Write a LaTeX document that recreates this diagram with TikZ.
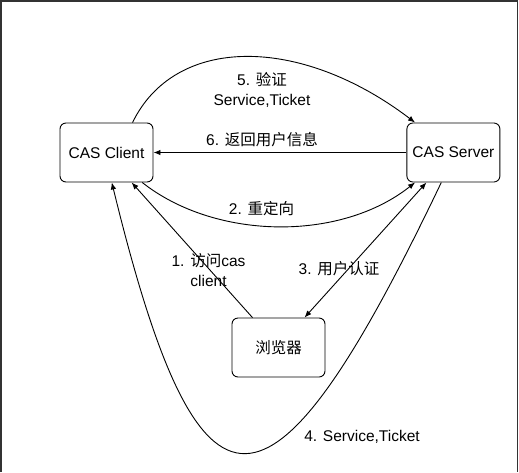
\documentclass[tikz,border=0pt]{standalone}
\usepackage{fontspec}
\setmainfont{Liberation Sans}
\newfontfamily\cjk{Noto Sans CJK SC}
\usetikzlibrary{positioning,arrows.meta}

\begin{document}
\begin{tikzpicture}[
  x=1pt, y=-1pt,
  font=\fontsize{15.5}{20}\selectfont,
  line width=0.9pt,
  box/.style={draw, rounded corners=6pt, align=center, minimum width=93pt, minimum height=59pt, inner sep=0pt},
  arr/.style={-{Latex[length=7pt, width=5.5pt]}},
  both/.style={{Latex[length=7pt, width=5.5pt]}-{Latex[length=7pt, width=5.5pt]}},
  lab/.style={align=center, inner sep=1pt},
  frame/.style={line width=1.3pt, black!80},
]
\useasboundingbox (0,0) rectangle (519,472);
\draw[frame] (1,472) -- (1,1) -- (517.5,1) -- (517.5,472);
% the three parties
\node[box] (client) at (106.5,152.5) {CAS Client};
\node[box, right=253pt of client] (server) {CAS Server};
\node[box] (browser) at (278.5,347.5) {{\cjk 浏览器}};
% labels
\node[lab] (l5) at (262,90) {5. {\cjk 验证}\\Service,Ticket};
\node[lab] (l6) at (262,140) {6. {\cjk 返回用户信息}};
\node[lab] (l2) at (261.5,209) {2. {\cjk 重定向}};
\node[lab] (l1) at (208.5,270) {1. {\cjk 访问}cas\\client};
\node[lab] (l3) at (339,269) {3. {\cjk 用户认证}};
\node[lab] (l4) at (362,437) {4. Service,Ticket};
% connectors
\draw[arr] (browser.131) -- (client.-50);
\draw[arr] (client.-40) .. controls (215,240) and (340,242) .. (server.218);
\draw[both] (server.228) -- (browser.49);
\draw[arr] (server.248) .. controls (269,543) and (200,543) .. (client.-80);
\draw[arr] (client.49) .. controls (175,35) and (300,35) .. (server.142);
\draw[arr] (server.west) -- (client.east);
\end{tikzpicture}
\end{document}
